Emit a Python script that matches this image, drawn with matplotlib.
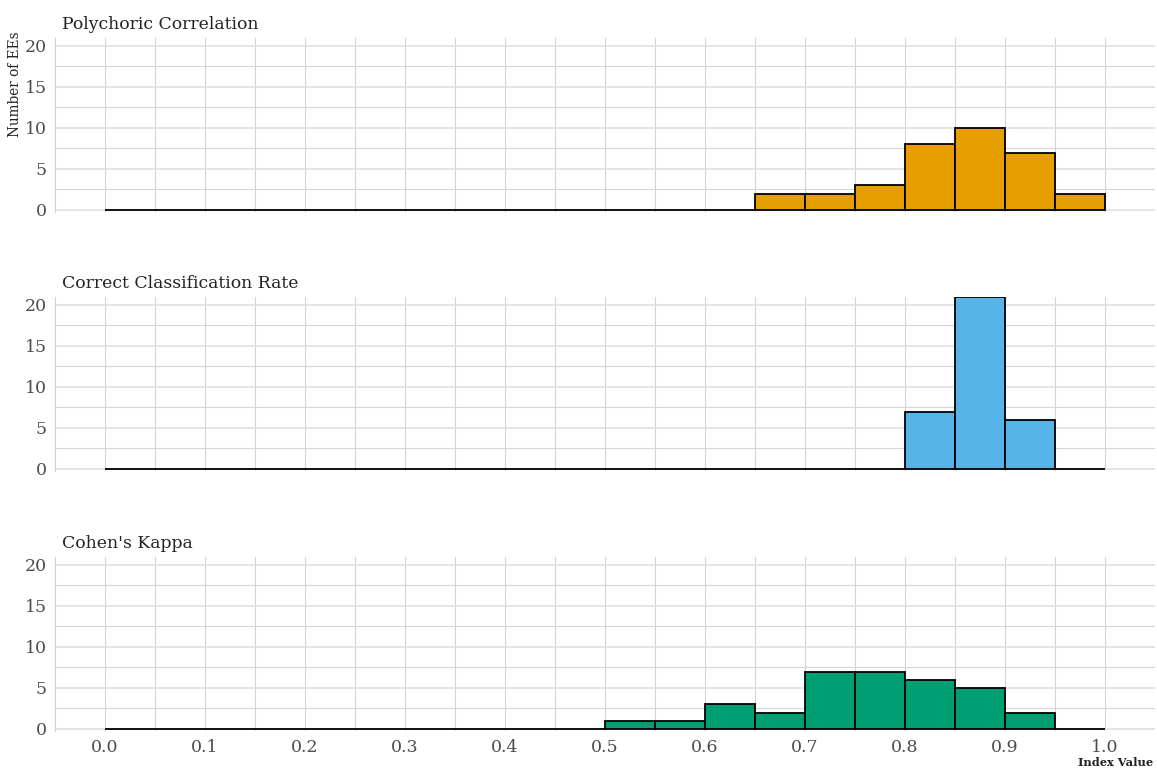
import matplotlib
matplotlib.use("Agg")
import matplotlib.pyplot as plt
import numpy as np

bin_edges = [round(0.05 * i, 2) for i in range(21)]
titles = ["Polychoric Correlation", "Correct Classification Rate", "Cohen's Kappa"]
polychoric = [0, 0, 0, 0, 0, 0, 0, 0, 0, 0, 0, 0, 0, 2, 2, 3, 8, 10, 7, 2]
ccr =        [0, 0, 0, 0, 0, 0, 0, 0, 0, 0, 0, 0, 0, 0, 0, 0, 7, 21, 6, 0]
kappa =      [0, 0, 0, 0, 0, 0, 0, 0, 0, 0, 1, 1, 3, 2, 7, 7, 6, 5, 2, 0]
colors = ["#E69F00", "#56B4E9", "#009E73"]
x_ticks = [0.0, 0.1, 0.2, 0.3, 0.4, 0.5, 0.6, 0.7, 0.8, 0.9, 1.0]
y_ticks = [0, 5, 10, 15, 20]

FONT = "DejaVu Serif"
plt.rcParams["font.family"] = FONT

fig = plt.figure(figsize=(11.57, 7.71), dpi=100)
W, H = 1157, 771
left_px, right_px = 55, 1155
tops = [37.8, 296.8, 556.8]
bots = [211.6, 470.6, 730.6]

series = [polychoric, ccr, kappa]
lefts = np.array(bin_edges[:-1])
width = 0.05
for i, (vals, col, title) in enumerate(zip(series, colors, titles)):
    ax = fig.add_axes([left_px / W, 1 - bots[i] / H, (right_px - left_px) / W, (bots[i] - tops[i]) / H])
    ax.set_xlim(-0.05, 1.05)
    ax.set_ylim(-0.2, 21)
    ax.set_xticks(x_ticks)
    ax.set_xticks(np.arange(0.05, 1.05, 0.1), minor=True)
    ax.set_yticks(y_ticks)
    ax.set_yticks([2.5, 7.5, 12.5, 17.5], minor=True)
    ax.grid(True, axis="y", which="major", color="#e0e0e0", linewidth=1.2)
    ax.grid(True, axis="y", which="minor", color="#d6d6d6", linewidth=0.8)
    ax.grid(True, axis="x", which="both", color="#d4d4d4", linewidth=0.8)
    ax.set_axisbelow(True)
    for s in ["top", "right", "bottom"]:
        ax.spines[s].set_visible(False)
    ax.spines["left"].set_color("#d0d0d0")
    ax.spines["left"].set_linewidth(0.8)
    ax.tick_params(which="both", length=0, labelsize=12.5, labelcolor="#4d4d4d", pad=6)
    ax.bar(lefts, vals, width=width, align="edge", color=col, edgecolor="black", linewidth=1.3, zorder=3)
    ax.set_title(title, loc="left", fontsize=12.4, color="#222222", pad=6, x=0.006)
    if i < 2:
        ax.tick_params(axis="x", labelbottom=False)

fig.text(15 / W, 1 - 84 / H, "Number of EEs", rotation=90, ha="center", va="center",
         fontsize=9.8, color="#222222")
fig.text(1153 / W, 1 - 763 / H, "Index Value", ha="right", va="center",
         fontsize=8.2, color="#222222", fontweight="bold")

fig.savefig("out.png", dpi=100)
